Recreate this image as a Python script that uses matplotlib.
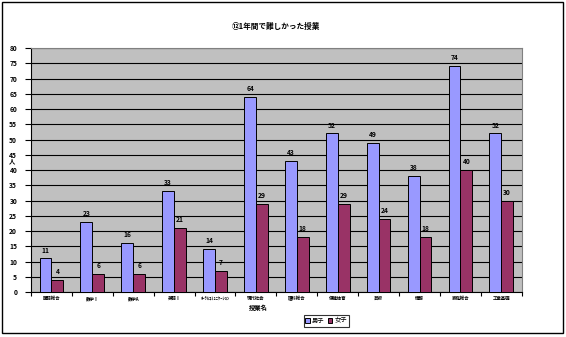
import matplotlib
matplotlib.use("Agg")
import matplotlib.pyplot as plt
import numpy as np
from matplotlib.patches import Rectangle

plt.rcParams['font.family'] = ['Noto Sans CJK JP', 'DejaVu Sans']

title = "⑫1年間で難しかった授業"
categories = ["国語総合", "数学Ⅰ", "数学A", "英語Ⅰ", "ｵｰﾗﾙｺﾐｭﾆｹｰｼｮﾝ", "現代社会",
              "理科総合", "保健体育", "芸術", "情報", "家庭総合", "工業基礎"]
series_names = ["男子", "女子"]
boys = [11, 23, 16, 33, 14, 64, 43, 52, 49, 38, 74, 52]
girls = [4, 6, 6, 21, 7, 29, 18, 29, 24, 18, 40, 30]
yticks = list(range(0, 81, 5))
x_title = "授業名"
y_title = "人"

fig = plt.figure(figsize=(5.66, 3.37), dpi=100)
fig.patch.set_facecolor("white")
fig.add_artist(Rectangle((0.004, 0.012), 0.991, 0.982, transform=fig.transFigure,
                         fill=False, edgecolor="black", linewidth=1.0))

ax = fig.add_axes([0.0548, 0.1335, 0.867, 0.724])
ax.set_facecolor("#C0C0C0")
x = np.arange(len(categories))
w = 0.29
b1 = ax.bar(x - w / 2, boys, w, color="#9999FF", edgecolor="black", linewidth=0.7,
            label=series_names[0], zorder=3)
b2 = ax.bar(x + w / 2, girls, w, color="#993366", edgecolor="black", linewidth=0.7,
            label=series_names[1], zorder=3)
for bars, vals in ((b1, boys), (b2, girls)):
    for r, v in zip(bars, vals):
        ax.text(r.get_x() + r.get_width() / 2, v + 1.6, str(v), ha="center", va="bottom",
                fontsize=4.8, fontweight="bold")

ax.set_xlim(-0.5, len(categories) - 0.5)
ax.set_ylim(0, 80)
ax.set_yticks(yticks)
ax.set_yticklabels([str(t) for t in yticks], fontsize=4.8, fontweight="bold")
ax.yaxis.grid(True, color="black", linewidth=0.8, zorder=1)
ax.set_axisbelow(True)
ax.tick_params(axis="y", length=4, width=0.8, pad=6, direction="out")
ax.set_xticks(x)
ax.set_xticklabels(categories, fontsize=3.2, fontweight="bold")
ax.tick_params(axis="x", length=0, pad=3)
ax.set_xticks(np.arange(-0.5, len(categories), 1), minor=True)
ax.tick_params(axis="x", which="minor", length=3, width=0.8)
for side in ("top", "right"):
    ax.spines[side].set_color("#808080")
    ax.spines[side].set_linewidth(0.8)
ax.spines["left"].set_color("black")
ax.spines["bottom"].set_color("black")
ax.spines["left"].set_linewidth(0.8)
ax.spines["bottom"].set_linewidth(0.8)

fig.text(0.488, 0.92, title, ha="center", va="center", fontsize=5.5, fontweight="bold")
fig.text(0.456, 0.089, x_title, ha="center", va="center", fontsize=4.5, fontweight="bold")
fig.text(0.022, 0.522, y_title, ha="center", va="center", fontsize=4.5, fontweight="bold")

leg = fig.legend(handles=[b1, b2], labels=series_names, loc="center",
                 bbox_to_anchor=(0.576, 0.048), ncol=2, fontsize=4.5, frameon=True,
                 handlelength=0.7, handleheight=0.7, handletextpad=0.3, columnspacing=0.6,
                 borderpad=0.3, fancybox=False, edgecolor="black")
leg.get_frame().set_linewidth(0.8)

fig.savefig("out.png", dpi=100)
